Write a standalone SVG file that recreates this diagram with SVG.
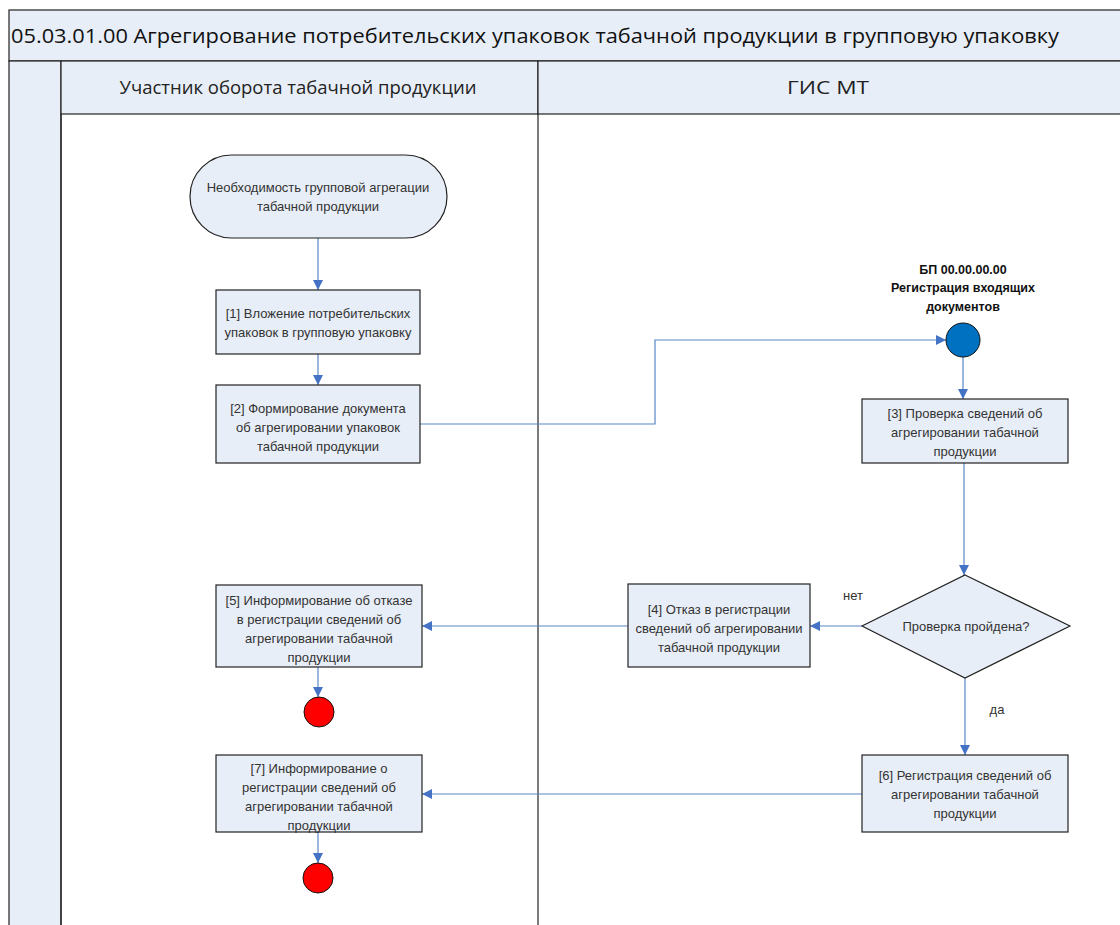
<svg xmlns="http://www.w3.org/2000/svg" width="1120" height="925" viewBox="0 0 1120 925">
<defs>
<marker id="arr" viewBox="0 0 10 10" refX="10" refY="5" markerWidth="10" markerHeight="10" markerUnits="userSpaceOnUse" orient="auto">
<path d="M0,0 L10,5 L0,10 z" fill="#4472C4"/>
</marker>
<style>
.band{fill:#E8EEF7;stroke:#222;stroke-width:1.2}
.box{fill:#E8EEF7;stroke:#222;stroke-width:1.2}
.t{font-family:"Liberation Sans",Arial,sans-serif;font-size:13px;fill:#333;text-anchor:middle}
.b{font-family:"Liberation Sans",Arial,sans-serif;font-size:12.5px;font-weight:bold;fill:#111;text-anchor:middle}
.h{font-family:"Open Sans","Liberation Sans",Arial,sans-serif;font-size:18px;fill:#222;text-anchor:middle}
.c{fill:none;stroke:#5A86C8;stroke-width:1.2;marker-end:url(#arr)}
</style>
</defs>
<rect width="1120" height="925" fill="#fff"/>
<g id="pool">
<rect class="band" x="9" y="10" width="1120" height="51"/>
<text x="11" y="43" font-family="Open Sans,Liberation Sans,Arial,sans-serif" font-size="20" fill="#111" textLength="1048" lengthAdjust="spacingAndGlyphs">05.03.01.00 Агрегирование потребительских упаковок табачной продукции в групповую упаковку</text>
<rect class="band" x="9" y="61" width="52" height="880"/>
<rect class="band" x="61" y="61" width="477" height="53"/>
<rect class="band" x="538" y="61" width="600" height="53"/>
<line x1="61" y1="114" x2="61" y2="925" stroke="#222" stroke-width="1.2"/>
<line x1="538" y1="114" x2="538" y2="925" stroke="#222" stroke-width="1.2"/>
<text class="h" x="298" y="94" textLength="357" lengthAdjust="spacingAndGlyphs">Участник оборота табачной продукции</text>
<text class="h" x="828" y="94" textLength="82" lengthAdjust="spacingAndGlyphs">ГИС МТ</text>
</g>
<g id="connectors">
<line class="c" x1="318" y1="238" x2="318" y2="290"/>
<line class="c" x1="318" y1="354" x2="318" y2="385"/>
<polyline class="c" points="420,424 655,424 655,340 946,340"/>
<line class="c" x1="963" y1="357" x2="963" y2="399"/>
<line class="c" x1="964" y1="463" x2="964" y2="575"/>
<line class="c" x1="862" y1="626" x2="810" y2="626"/>
<line class="c" x1="628" y1="626" x2="422" y2="626"/>
<line class="c" x1="318" y1="667" x2="318" y2="697"/>
<line class="c" x1="965" y1="678" x2="965" y2="755"/>
<line class="c" x1="862" y1="794" x2="422" y2="794"/>
<line class="c" x1="318" y1="832" x2="318" y2="863"/>
<text class="t" x="853" y="600">нет</text>
<text class="t" x="997" y="714">да</text>
</g>
<g id="start">
<rect class="box" x="190" y="155" width="257" height="83" rx="41.5"/>
<text class="t" x="318" y="192">Необходимость групповой агрегации</text>
<text class="t" x="318" y="211">табачной продукции</text>
</g>
<g id="n1">
<rect class="box" x="216" y="290" width="204" height="64"/>
<text class="t" x="318" y="318">[1] Вложение потребительских</text>
<text class="t" x="318" y="337">упаковок в групповую упаковку</text>
</g>
<g id="n2">
<rect class="box" x="216" y="385" width="204" height="78"/>
<text class="t" x="318" y="413">[2] Формирование документа</text>
<text class="t" x="318" y="432">об агрегировании упаковок</text>
<text class="t" x="318" y="451">табачной продукции</text>
</g>
<g id="bp">
<text class="b" x="963" y="274">БП 00.00.00.00</text>
<text class="b" x="963" y="292">Регистрация входящих</text>
<text class="b" x="963" y="311">документов</text>
<circle cx="963" cy="340" r="17" fill="#0070C0" stroke="#111" stroke-width="1"/>
</g>
<g id="n3">
<rect class="box" x="862" y="399" width="206" height="64"/>
<text class="t" x="965" y="418">[3] Проверка сведений об</text>
<text class="t" x="965" y="437">агрегировании табачной</text>
<text class="t" x="965" y="456">продукции</text>
</g>
<g id="dec">
<polygon class="box" points="965,575 1070,626 965,678 862,626"/>
<text class="t" x="966" y="631">Проверка пройдена?</text>
</g>
<g id="n4">
<rect class="box" x="628" y="584" width="182" height="83"/>
<text class="t" x="719" y="614">[4] Отказ в регистрации</text>
<text class="t" x="719" y="633">сведений об агрегировании</text>
<text class="t" x="719" y="652">табачной продукции</text>
</g>
<g id="n5">
<rect class="box" x="216" y="585" width="206" height="82"/>
<text class="t" x="319" y="605">[5] Информирование об отказе</text>
<text class="t" x="319" y="624">в регистрации сведений об</text>
<text class="t" x="319" y="643">агрегировании табачной</text>
<text class="t" x="319" y="662">продукции</text>
</g>
<g id="end1">
<circle cx="319" cy="712" r="15" fill="#FF0000" stroke="#111" stroke-width="1"/>
</g>
<g id="n6">
<rect class="box" x="862" y="755" width="206" height="77"/>
<text class="t" x="965" y="780">[6] Регистрация сведений об</text>
<text class="t" x="965" y="799">агрегировании табачной</text>
<text class="t" x="965" y="818">продукции</text>
</g>
<g id="n7">
<rect class="box" x="216" y="755" width="206" height="77"/>
<text class="t" x="319" y="773">[7] Информирование о</text>
<text class="t" x="319" y="792">регистрации сведений об</text>
<text class="t" x="319" y="811">агрегировании табачной</text>
<text class="t" x="319" y="830">продукции</text>
</g>
<g id="end2">
<circle cx="318" cy="878" r="15" fill="#FF0000" stroke="#111" stroke-width="1"/>
</g>
</svg>
